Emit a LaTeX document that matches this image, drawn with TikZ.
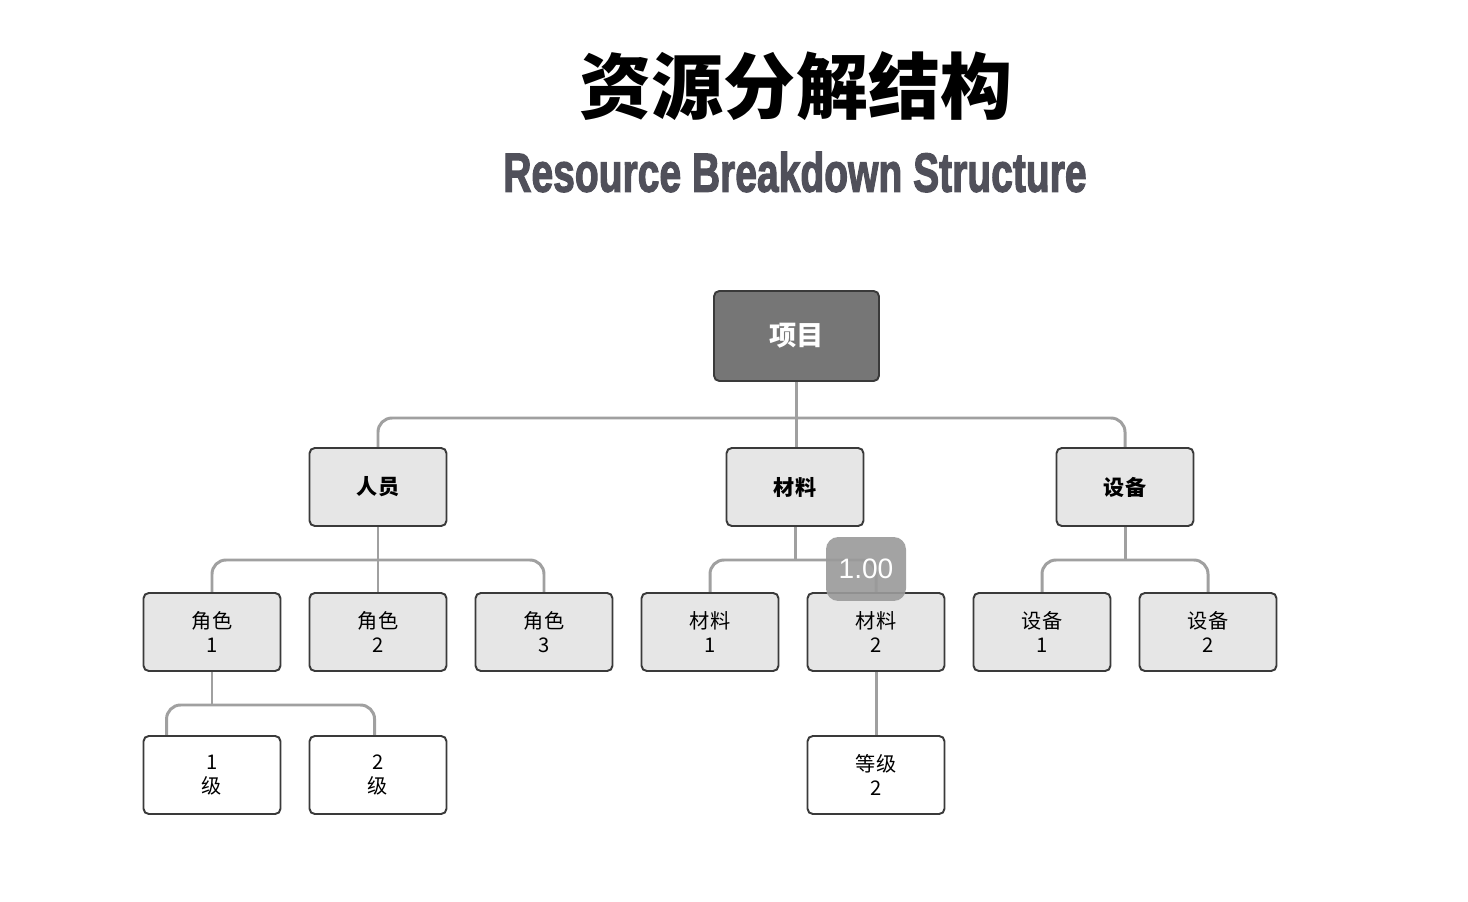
\documentclass[tikz,border=0pt]{standalone}
\usepackage{fontspec}
\setmainfont{Liberation Sans}
\newfontfamily\cjk{Noto Sans CJK SC}
\newfontfamily\subfont{Liberation Sans Bold}[FakeBold=2.5]
\usetikzlibrary{calc,backgrounds}
\definecolor{bordc}{HTML}{3A3A3A}
\definecolor{boxfill}{HTML}{E6E6E6}
\definecolor{topfill}{HTML}{767676}
\definecolor{connc}{HTML}{A0A0A0}
\definecolor{subc}{HTML}{50505A}
\definecolor{speedc}{HTML}{9A9A9A}
\begin{document}
\begin{tikzpicture}[x=0.02cm,y=-0.02cm,
  box/.style={draw=bordc, line width=1.1pt, rounded corners=3pt, fill=boxfill,
    minimum width=2.74cm, minimum height=1.56cm, align=center, inner sep=0pt,
    font=\cjk\fontsize{11.5}{13.6}\selectfont},
  midbox/.style={box, font=\cjk\bfseries\fontsize{12}{14}\selectfont},
  leafbox/.style={box, fill=white},
  topbox/.style={box, fill=topfill, text=white, minimum width=3.3cm, minimum height=1.8cm,
    font=\cjk\bfseries\fontsize{15.5}{18}\selectfont},
  conn/.style={draw=connc, line width=1.7pt, rounded corners=8pt},
  speed/.style={fill=speedc, fill opacity=0.9, text opacity=1, text=white, rounded corners=7pt,
    minimum width=1.6cm, minimum height=1.28cm, inner sep=0pt,
    font=\fontsize{16}{18}\selectfont}
]
\useasboundingbox (0,0) rectangle (1468,902);

% titles
\node[font=\cjk\bfseries\fontsize{41}{45}\selectfont, text=black] (title) at (796,86) {资源分解结构};
\node[text=subc, inner sep=0pt] (sub) at (795,172) {\resizebox{332pt}{22.7pt}{\subfont Resource Breakdown Structure}};

% level 1
\node[topbox] (xm) at (796.5,336) {项目};
% level 2
\node[midbox] (ry) at (378,487) {人员};
\node[midbox] (cl) at (795,487) {材料};
\node[midbox] (sb) at (1125,487) {设备};
% level 3
\node[box] (js1) at (212,632) {角色\\1};
\node[box] (js2) at (378,632) {角色\\2};
\node[box] (js3) at (544,632) {角色\\3};
\node[box] (cl1) at (710,632) {材料\\1};
\node[box] (cl2) at (876,632) {材料\\2};
\node[box] (sb1) at (1042,632) {设备\\1};
\node[box] (sb2) at (1208,632) {设备\\2};
% level 4
\node[leafbox] (j1) at (212,775) {1\\级};
\node[leafbox] (j2) at (378,775) {2\\级};
\node[leafbox] (dj) at (876,775) {等级\\2};

\coordinate (j1c) at ($(j1.north west)+(24,0)$);
\coordinate (j2c) at ($(j2.north west)+(66,0)$);

% connectors
\begin{scope}[on background layer]
\fill[white] (0,0) rectangle (1468,902);
% project
\draw[conn] (ry.north) -- (ry.north |- 0,418) -- (sb.north |- 0,418) -- (sb.north);
\draw[conn] (xm.south) -- (xm.south |- cl.north);
% people
\draw[conn] (js1.north) -- (js1.north |- 0,560) -- (js3.north |- 0,560) -- (js3.north);
\draw[conn] (ry.south) -- (js2.north);
% materials
\draw[conn] (cl1.north) -- (cl1.north |- 0,560) -- (cl2.north |- 0,560) -- (cl2.north);
\draw[conn] (cl.south) -- (cl.south |- 0,560);
% equipment
\draw[conn] (sb1.north) -- (sb1.north |- 0,560) -- (sb2.north |- 0,560) -- (sb2.north);
\draw[conn] (sb.south) -- (sb.south |- 0,560);
% role 1 levels
\draw[conn] (j1c) -- (j1c |- 0,705) -- (j2c |- 0,705) -- (j2c);
\draw[conn] (js1.south) -- (js1.south |- 0,705);
% material 2 grade
\draw[conn] (cl2.south) -- (dj.north);
\end{scope}

% playback overlay
\node[speed] (spd) at (866,569) {1.00};
\end{tikzpicture}
\end{document}
